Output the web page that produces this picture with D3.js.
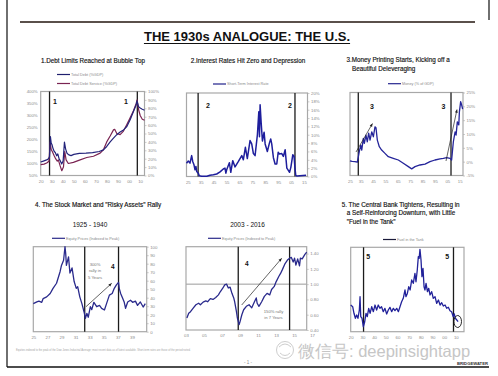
<!DOCTYPE html>
<html><head><meta charset="utf-8">
<script src="https://cdn.jsdelivr.net/npm/d3@7/dist/d3.min.js"></script>
<style>
body{margin:0;background:#fff}
svg{display:block}
text{font-family:"Liberation Sans",Arial,sans-serif}
</style>
</head><body>
<svg id="c" width="498" height="376"></svg>
<script>
// ---------------- DATA ----------------
// Panel 1: Debt limits
const p1DebtYears = [1920,1922.4,1925.4,1927,1928,1928.8,1929.5,1930.3,1931.3,1932.3,1933.3,1934.5,1935.5,1936.5,1937.6,1939,1940.3,1941.5,1942.6,1943.8,1945.5,1947.5,1950,1955,1961,1967,1973,1976.8,1979.8,1982.9,1985.9,1988.9,1991.9,1995,1998,2001,2004,2006.5,2007.2,2008.6,2010.1,2012,2014];
const p1Debt = [106,110,115,120,128,212,185,178,160,150,145,132,140,122,112,98,110,189,160,143,136,133,138,142,143,145,150,157,171,190,206,220,231,240,254,282,317,345,361,337,331,326,322];
const p1ServiceYears = [1920,1923,1925.4,1927.5,1928.6,1929.5,1930.5,1932,1933.5,1935,1936,1937.6,1939.1,1940.6,1941.8,1943,1945,1949.6,1955.7,1961.7,1967.8,1973.8,1976.8,1979.8,1982.9,1985.9,1987,1988.9,1991.9,1995,1998,2001,2004,2006.5,2007.3,2008.6,2010.1,2012,2014];
const p1Service = [12.9,13.5,14.8,17,39.7,31,28.6,24,20,17,18.6,11.4,5.7,10,28.6,18.6,14.3,15.7,18.6,21.4,22.9,26.6,30.6,40,47,54.3,55,50,48.6,52.9,60.6,68.6,77,85.7,90,78.6,71.4,67,65.7];
const p1LeftTicks = [50,100,150,200,250,300,350,400];
const p1RightTicks = [0,10,20,30,40,50,60,70,80,90,100];
const p1XTicks = [1920,1930,1940,1950,1960,1970,1980,1990,2000,2010];
const p1XLabels = ["20","30","40","50","60","70","80","90","00","10"];
const p1Events = [1928,2007.5];

// Panel 2: Short-term interest rate
const p2Years = [1924,1925.4,1926.7,1928,1928.8,1929.8,1930.6,1931.3,1931.9,1933.1,1933.9,1935.8,1939.7,1942.2,1944.8,1947.4,1950,1952.5,1953.8,1954.5,1955.2,1957.2,1958.3,1959.8,1961.6,1964.2,1966.8,1968,1969.6,1971.1,1973.2,1974.5,1975.8,1977.1,1978.9,1980,1980.5,1981,1981.8,1982.8,1984.1,1984.9,1986.6,1988.2,1989.2,1990,1991.3,1992.6,1993.9,1995,1995.9,1997.8,1999,2000.4,2001.7,2002.6,2003.8,2004.8,2006.3,2007.3,2008,2008.6,2009.5,2016.6];
const p2Rate = [3.2,3.7,3.2,5.0,3.6,2.8,1.6,2.4,1.2,0.8,0.2,0.05,0.05,0.3,0.4,0.6,1.1,1.8,2.0,0.8,1.7,3.3,1.0,3.8,2.3,3.6,5.0,4.0,7.0,4.3,8.6,7.8,5.5,5.0,10.0,15.5,9.5,17.2,13.0,8.5,10.6,7.8,6.0,8.0,9.0,7.8,4.5,3.0,3.0,5.8,5.4,5.5,4.8,6.4,2.0,1.6,1.0,2.2,5.2,4.8,2.0,0.3,0.1,0.3];
const p2Ticks = [0,2,4,6,8,10,12,14,16,18,20];
const p2XTicks = [1925,1935,1945,1955,1965,1975,1985,1995,2005,2015];
const p2XLabels = ["25","35","45","55","65","75","85","95","05","15"];
const p2Events = [1933,2008];

// Panel 3: Money (% of GDP)
const p3Years = [1926.3,1928,1930.3,1932.2,1933.3,1933.8,1935,1935.8,1937.1,1937.9,1939.2,1940.3,1941.4,1942.5,1943.9,1945.2,1946.5,1947.3,1948.4,1950,1951.9,1954.6,1957.3,1961.3,1965.4,1969.4,1973.5,1976.2,1978.9,1982.9,1987,1991,1995,1999.1,2001.8,2004.5,2007.2,2008.5,2009,2009.9,2011.3,2012.1,2013.1,2014.3,2014.8,2015.8,2016.6,2017.4];
const p3Money = [0.3,0.1,0.0,-0.2,2.4,3.6,6.0,4.2,8.4,6.6,9.6,7.2,10.3,7.8,10.8,9.0,12.6,12.3,7.8,5.4,4.2,3.0,1.8,1.2,0.6,-0.6,-1.8,-2.6,-1.8,-1.2,-0.9,0.0,0.6,1.0,1.2,1.5,1.2,0.6,3.0,7.2,10.8,9.6,14.4,13.3,18.1,21.7,20.5,19.0];
const p3Ticks = [-5,0,5,10,15,20,25];
const p3XTicks = [1926.3,1935,1945,1955,1965,1975,1985,1995,2005,2015];
const p3XLabels = ["25","35","45","55","65","75","85","95","05","15"];
const p3Events = [1933,2008];

// Panel 4a: Equity prices 1925-1940 (indexed to peak)
const p4aYears = [1925,1925.5,1925.8,1926.2,1926.4,1926.9,1927.4,1927.8,1928.3,1928.8,1929,1929.3,1929.5,1929.6,1929.7,1930,1930.2,1930.5,1930.8,1931.1,1931.3,1931.6,1931.9,1932.2,1932.4,1932.6,1932.8,1933.1,1933.3,1933.6,1934,1934.4,1934.7,1935.1,1935.4,1935.8,1936.2,1936.5,1936.8,1937.1,1937.2,1937.4,1937.7,1937.9,1938.1,1938.4,1938.8,1939.1,1939.5,1939.8,1940.2,1940.6,1940.9];
const p4aEquity = [33,35,36,34.6,39,41,45,51,57,70.6,78,84,100,92,78,88,69,75,59,51,53,41,33,23.5,15.7,21.6,17,29.4,26,34.6,29.4,31,27.5,25.5,33,43,45,51,55,58,51,45,39,35,27.5,35,37,34.6,36,31,35,29,33];
const p4aTicks = [0,10,20,30,40,50,60,70,80,90,100];
const p4aXTicks = [1925,1927,1929,1931,1933,1935,1937,1939];
const p4aXLabels = ["25","27","29","31","33","35","37","39"];
const p4aEvents = [1932.3,1937.1];

// Panel 4b: Equity prices 2003-2016 (indexed to peak)
const p4bYears = [2003.1,2003.3,2003.5,2003.8,2004.1,2004.4,2004.6,2004.9,2005.2,2005.4,2005.7,2006,2006.3,2006.6,2006.8,2007.1,2007.3,2007.5,2007.7,2007.9,2008.1,2008.3,2008.4,2008.6,2008.7,2008.9,2009,2009.2,2009.4,2009.7,2010,2010.3,2010.6,2010.8,2010.9,2011.1,2011.4,2011.7,2012,2012.3,2012.5,2012.8,2013,2013.3,2013.5,2013.7,2014,2014.3,2014.5,2014.7,2014.9,2015.05,2015.2,2015.4,2015.6,2015.7,2015.9,2016.2,2016.4];
const p4bEquity = [0.557,0.62,0.64,0.687,0.73,0.75,0.73,0.765,0.78,0.77,0.81,0.80,0.825,0.86,0.90,0.95,0.99,1.0,0.95,0.96,0.88,0.82,0.77,0.64,0.56,0.47,0.51,0.60,0.665,0.71,0.73,0.69,0.77,0.82,0.75,0.71,0.77,0.84,0.88,0.86,0.93,0.97,1.03,1.10,1.14,1.19,1.27,1.32,1.34,1.35,1.29,1.34,1.25,1.33,1.24,1.34,1.33,1.39,1.42];
const p4bTicks = [0.4,0.6,0.8,1.0,1.2,1.4];
const p4bXTicks = [2003,2005,2007,2009,2011,2013,2015,2017];
const p4bXLabels = ["03","05","07","09","11","13","15","17"];
const p4bEvents = [2008.8,2014.5];

// Panel 5: Fuel in the tank
const p5Years = [1920,1921.7,1922.8,1924,1925.1,1926.2,1927.4,1928,1928.6,1929.7,1930.8,1932,1933.1,1934.2,1935.4,1936.6,1938,1939.4,1940.8,1942.2,1943.6,1945,1946.4,1947.9,1949.3,1950.8,1952.2,1953.6,1955.1,1956.5,1957.9,1959.4,1960.8,1962.2,1963.6,1965,1966.5,1967.3,1968.5,1969.7,1970.9,1972.2,1973.6,1975,1975.9,1977,1977.9,1978.6,1979.3,1980.2,1981,1981.9,1982.8,1983.6,1984.5,1985.7,1986.8,1987.9,1989.3,1990.7,1992.2,1993.6,1995.1,1996.5,1997.9,1999.3,2000.8,2002.2,2003.6,2005,2006.4,2007.8,2008.7,2009.6,2010.8,2011.9];
const p5Fuel = [31.6,29.6,21.8,15.9,19.8,15.9,25.7,41.5,17.8,15.9,5.9,11.8,21.8,17.8,27.7,21.8,29.6,23.7,31.6,25.7,31.6,27.7,29.6,23.7,27.7,21,25.7,28.9,23.7,27.7,24.9,27.7,23.7,29.6,35.5,39.6,49.4,41.5,45.4,53.3,49.4,61.3,57.3,69.2,59.2,73.1,88.9,86.9,97.6,84.9,65.2,75.1,53.3,49.4,57.3,47.4,51.4,43.5,47.4,39.6,41.5,33.6,37.5,31.6,34.4,30.4,31.6,27.7,28.9,24.9,23.7,17.8,21,15.9,13.9,11.8];
const p5XTicks = [1920,1930,1940,1950,1960,1970,1980,1990,2000,2010];
const p5XLabels = ["20","30","40","50","60","70","80","90","00","10"];
const p5Events = [1931,2008];

// ---------------- DRAW ----------------
const svg = d3.select('#c');
const FONT = '"Liberation Sans",Arial,sans-serif';
const zip = (a,b)=>a.map((v,i)=>[v,b[i]]);

function styleAxis(g, color){
  g.select('.domain').remove();
  g.selectAll('text').attr('font-size',4.3).attr('fill',color||'#8a8a8a').attr('font-family',FONT);
}

function makePanel(c){
  const x = d3.scaleLinear().domain(c.xDomain).range([c.left,c.right]);
  const y = d3.scaleLinear().domain(c.yDomain).range([c.bottom,c.top]);
  const g = svg.append('g');
  (c.hLines||[]).forEach(v=>g.append('line').attr('x1',c.left).attr('x2',c.right)
     .attr('y1',y(v)).attr('y2',y(v)).attr('stroke','#8f8f8f').attr('stroke-width',0.9));
  g.append('rect').attr('x',c.left).attr('y',c.top).attr('width',c.right-c.left)
     .attr('height',c.bottom-c.top).attr('fill','none').attr('stroke','#a8a8a8').attr('stroke-width',1.2);
  const gx = g.append('g').attr('transform',`translate(0,${c.bottom})`)
     .call(d3.axisBottom(x).tickValues(c.xTicks).tickFormat((d,i)=>c.xLabels[i]).tickSize(0).tickPadding(4));
  styleAxis(gx);
  if(c.rightTicks){
    const yr = c.yRight ? d3.scaleLinear().domain(c.yRight).range([c.bottom,c.top]) : y;
    const gr = g.append('g').attr('transform',`translate(${c.right},0)`)
      .call(d3.axisRight(yr).tickValues(c.rightTicks).tickFormat(c.rightFormat).tickSize(2).tickPadding(1.5));
    styleAxis(gr);
    gr.selectAll('line').attr('stroke','#aaa').attr('stroke-width',0.6);
  }
  if(c.leftTicks){
    const gl = g.append('g').attr('transform',`translate(${c.left},0)`)
      .call(d3.axisLeft(y).tickValues(c.leftTicks).tickFormat(c.leftFormat).tickSize(0).tickPadding(3));
    styleAxis(gl);
  }
  (c.events||[]).forEach(e=>g.append('line').attr('x1',x(e)).attr('x2',x(e))
     .attr('y1',c.top).attr('y2',c.bottom).attr('stroke','#1b1b1b').attr('stroke-width',1.3));
  return {x,y,g};
}

function drawLine(p, xs, ys, color, w, yScale){
  const ys2 = yScale || p.y;
  p.g.append('path').datum(zip(xs,ys))
    .attr('d', d3.line().x(d=>p.x(d[0])).y(d=>ys2(d[1])))
    .attr('fill','none').attr('stroke',color).attr('stroke-width',w||1.3).attr('stroke-linejoin','round');
}

function txt(x,y,s,size,opts){
  opts = opts||{};
  const t = svg.append('text').attr('x',x).attr('y',y).text(s)
    .attr('font-size',size).attr('fill',opts.fill||'#111')
    .attr('font-family',opts.family||FONT)
    .attr('text-anchor',opts.anchor||'start');
  if(opts.weight) t.attr('font-weight',opts.weight);
  if(opts.stroke) t.attr('stroke',opts.stroke).attr('stroke-width',opts.sw||0.2);
  return t;
}

function legend(x,y,label,color){
  svg.append('line').attr('x1',x).attr('x2',x+13).attr('y1',y).attr('y2',y)
    .attr('stroke',color).attr('stroke-width',1.2);
  txt(x+14,y+1.4,label,3.8,{fill:'#8a8a8a'});
}

function arrow(x1,y1,x2,y2){
  svg.append('line').attr('x1',x1).attr('y1',y1).attr('x2',x2).attr('y2',y2)
    .attr('stroke','#222').attr('stroke-width',0.7);
  const a = Math.atan2(y2-y1,x2-x1), L=3.2, W=1.4;
  const p = [[x2,y2],[x2-L*Math.cos(a)+W*Math.sin(a), y2-L*Math.sin(a)-W*Math.cos(a)],
             [x2-L*Math.cos(a)-W*Math.sin(a), y2-L*Math.sin(a)+W*Math.cos(a)]];
  svg.append('polygon').attr('points',p.map(d=>d.join(',')).join(' ')).attr('fill','#222');
}

// Frame
svg.append('line').attr('x1',7).attr('x2',7).attr('y1',0).attr('y2',367).attr('stroke','#222').attr('stroke-width',1.3);
svg.append('line').attr('x1',489).attr('x2',489).attr('y1',0).attr('y2',20).attr('stroke','#222').attr('stroke-width',1.3);
svg.append('line').attr('x1',20).attr('x2',475).attr('y1',22).attr('y2',22).attr('stroke','#5a504b').attr('stroke-width',2);
svg.append('line').attr('x1',7).attr('x2',489).attr('y1',367).attr('y2',367).attr('stroke','#111').attr('stroke-width',1.6);

// Main title
const mt = txt(247,41,'THE 1930s ANALOGUE: THE U.S.',13,{anchor:'middle',weight:'bold',fill:'#111'});
const mw = mt.node().getComputedTextLength();
svg.append('line').attr('x1',247-mw/2).attr('x2',247+mw/2).attr('y1',43.5).attr('y2',43.5).attr('stroke','#111').attr('stroke-width',1.2);

const titleOpts = {fill:'#111',stroke:'#111',sw:0.15};

// ---- Panel 1
txt(93,63,'1.Debt Limits Reached at Bubble Top',6.3,Object.assign({anchor:'middle'},titleOpts));
legend(57,74.5,'Total Debt (%GDP)','#1f1f6e');
legend(57,83.5,'Total Debt Service (%GDP)','#7a2452');
const P1 = makePanel({left:40.7,right:144.5,top:91.5,bottom:175.5,xDomain:[1920,2014],yDomain:[50,400],
  yRight:[0,100],xTicks:p1XTicks,xLabels:p1XLabels,events:p1Events,
  leftTicks:p1LeftTicks,leftFormat:d=>d+'%',rightTicks:p1RightTicks,rightFormat:d=>d+'%'});
const p1R = d3.scaleLinear().domain([0,100]).range([175.5,91.5]);
drawLine(P1,p1ServiceYears,p1Service,'#7a2452',1.2,p1R);
drawLine(P1,p1DebtYears,p1Debt,'#23237a',1.2);
txt(55,104,'1',7,{anchor:'middle',weight:'bold'});
txt(126,104,'1',7,{anchor:'middle',weight:'bold'});

// ---- Panel 2
txt(248,63,'2.Interest Rates Hit Zero and Depression',6.3,Object.assign({anchor:'middle'},titleOpts));
legend(213,84,'Short-Term Interest Rate','#1f1f8a');
const P2 = makePanel({left:186.5,right:307.5,top:93,bottom:176.5,xDomain:[1924,2017.7],yDomain:[0,20],
  xTicks:p2XTicks,xLabels:p2XLabels,events:p2Events,rightTicks:p2Ticks,rightFormat:d=>d+'%'});
drawLine(P2,p2Years,p2Rate,'#1e1e9c',1.5);
txt(208,108,'2',7,{anchor:'middle',weight:'bold'});
txt(290,108,'2',7,{anchor:'middle',weight:'bold'});

// ---- Panel 3
txt(346.5,62,'3.Money Printing Starts, Kicking off a',6.3,titleOpts);
txt(352,70.5,'Beautiful Deleveraging',6.3,titleOpts);
legend(388,83.7,'Money (% of GDP)','#25258f');
const P3 = makePanel({left:350,right:463,top:92.5,bottom:175.5,xDomain:[1926.3,2017.7],yDomain:[-5,25],
  xTicks:p3XTicks,xLabels:p3XLabels,events:p3Events,rightTicks:p3Ticks,rightFormat:d=>d+'%'});
drawLine(P3,p3Years,p3Money,'#25259a',1.3);
txt(372,109,'3',7,{anchor:'middle',weight:'bold'});
txt(443.5,109,'3',7,{anchor:'middle',weight:'bold'});
arrow(356,152,372.5,123.5);
arrow(446,161,457,109.5);

// ---- Panel 4
txt(35,207,'4. The Stock Market and "Risky Assets" Rally',6.3,titleOpts);
txt(90,227,'1925 - 1940',6.5,{anchor:'middle',fill:'#111'});
txt(247.5,227,'2003 - 2016',6.5,{anchor:'middle',fill:'#111'});
legend(52,238.3,'Equity Prices (Indexed to Peak)','#2a2a8a');
legend(208,238.3,'Equity Prices (Indexed to Peak)','#2a2a8a');
const P4a = makePanel({left:33.3,right:146.7,top:246.7,bottom:331.7,xDomain:[1925,1941.1],yDomain:[0,100],
  xTicks:p4aXTicks,xLabels:p4aXLabels,events:p4aEvents,rightTicks:p4aTicks,rightFormat:d=>d});
drawLine(P4a,p4aYears,p4aEquity,'#2a2a8c',1.3);
const P4b = makePanel({left:186,right:306.7,top:246.7,bottom:330,xDomain:[2003,2016.4],yDomain:[0.4,1.49],
  xTicks:p4bXTicks,xLabels:p4bXLabels,events:p4bEvents,rightTicks:p4bTicks,rightFormat:d3.format('.2f'),hLines:[1.0]});
drawLine(P4b,p4bYears,p4bEquity,'#2a2a8c',1.3);
arrow(86,306.7,111.7,283.3);
arrow(241.7,305,281.7,258.3);
txt(112.7,269,'4',6.5,{anchor:'middle',weight:'bold'});
txt(246.7,266,'4',6.5,{anchor:'middle',weight:'bold'});
['300%','rally in','5 Years'].forEach((s,i)=>txt(95,266+i*6.4,s,4.2,{anchor:'middle',fill:'#777'}));
['150% rally','in 7 Years'].forEach((s,i)=>txt(273.5,313+i*5.6,s,4.2,{anchor:'middle',fill:'#777'}));
txt(16,350.5,'Equities indexed to the peak of the Dow Jones Industrial Average; most recent data as of latest available. Short-term rates are those of the period noted.',2.6,{fill:'#a5a5a5'});

// ---- Panel 5
txt(341.7,207,'5. The Central Bank Tightens, Resulting in',6.3,titleOpts);
txt(346.7,215.3,'a Self-Reinforcing Downturn, with Little',6.3,titleOpts);
txt(346.7,223.7,'"Fuel in the Tank"',6.3,titleOpts);
legend(383,239.5,'Fuel in the Tank','#1a1a3a');
const P5 = makePanel({left:350.7,right:464,top:247.3,bottom:331.7,xDomain:[1920,2017],yDomain:[0,100],
  xTicks:p5XTicks,xLabels:p5XLabels,events:p5Events});
drawLine(P5,p5Years,p5Fuel,'#22229a',1.3);
txt(368.3,259,'5',7,{anchor:'middle',weight:'bold'});
txt(447.3,259,'5',7,{anchor:'middle',weight:'bold'});
svg.append('ellipse').attr('cx',457.7).attr('cy',321.5).attr('rx',3.8).attr('ry',6).attr('fill','none').attr('stroke','#111').attr('stroke-width',0.9);

// Footer
txt(248,363.5,'- 1 -',4.5,{anchor:'middle',fill:'#888'});
txt(488,365.3,'BRIDGEWATER',4.2,{anchor:'end',weight:'bold',fill:'#333'});
// watermark
const wm = svg.append('g').attr('opacity',0.9);
wm.append('circle').attr('cx',285).attr('cy',350).attr('r',8.5).attr('fill','none').attr('stroke','#c9c9c9').attr('stroke-width',1);
wm.append('path').attr('d','M279,347 q6,-6 12,0 M280,353 q5,5 10,0').attr('fill','none').attr('stroke','#c9c9c9').attr('stroke-width',1);
txt(298,356.5,'微信号: deepinsightapp',16.5,{fill:'#c6c6c6',family:'"Noto Sans CJK SC","Liberation Sans",sans-serif'});
</script>
</body></html>
